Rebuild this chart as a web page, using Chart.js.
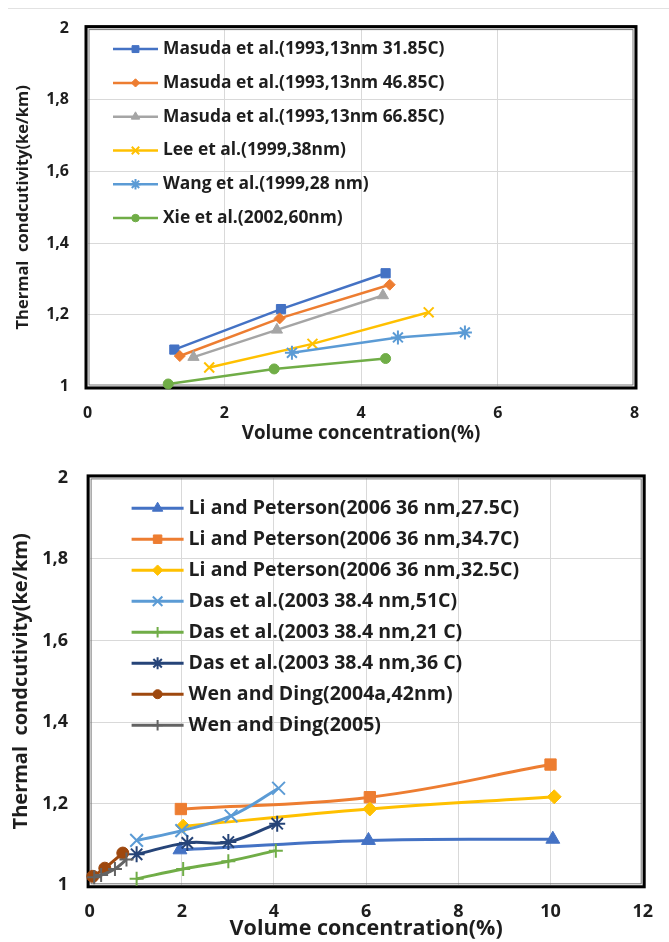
<!DOCTYPE html>
<html>
<head>
<meta charset="utf-8">
<title>Thermal conductivity vs volume concentration</title>
<script src="https://cdn.jsdelivr.net/npm/chart.js@4.4.1/dist/chart.umd.min.js"></script>
<style>
    html, body { margin: 0; padding: 0; background: #fff; }
    #page { position: relative; width: 669px; height: 942px; overflow: hidden; background: #fff; }
    #topRule { position: absolute; left: 8px; right: 0; top: 8px; border-top: 1px solid #e2e2e2; }
    .chartBox { position: absolute; left: 0; width: 669px; }
    #topBox { top: 0; height: 445px; }
    #bottomBox { top: 445px; height: 497px; }
</style>
</head>
<body>
<div id="page">
    <div id="topRule"></div>
    <div class="chartBox" id="topBox"><canvas id="chartTop"></canvas></div>
    <div class="chartBox" id="bottomBox"><canvas id="chartBottom"></canvas></div>
</div>
<script>
// ---- data: top chart ----
const topLabels = [
    'Masuda et al.(1993,13nm 31.85C)',
    'Masuda et al.(1993,13nm 46.85C)',
    'Masuda et al.(1993,13nm 66.85C)',
    'Lee et al.(1999,38nm)',
    'Wang et al.(1999,28 nm)',
    'Xie et al.(2002,60nm)'
];
const masuda32X = [1.27, 2.83, 4.36];
const masuda32Y = [1.103, 1.216, 1.316];
const masuda47X = [1.35, 2.81, 4.42];
const masuda47Y = [1.085, 1.19, 1.284];
const masuda67X = [1.55, 2.77, 4.32];
const masuda67Y = [1.082, 1.158, 1.254];
const leeX = [1.78, 3.29, 4.99];
const leeY = [1.053, 1.119, 1.207];
const wangX = [2.99, 4.54, 5.52];
const wangY = [1.094, 1.137, 1.151];
const xieX = [1.18, 2.73, 4.36];
const xieY = [1.007, 1.049, 1.078];
const topXTicks = ['0', '2', '4', '6', '8'];

// ---- data: bottom chart ----
const bottomLabels = [
    'Li and Peterson(2006 36 nm,27.5C)',
    'Li and Peterson(2006 36 nm,34.7C)',
    'Li and Peterson(2006 36 nm,32.5C)',
    'Das et al.(2003 38.4 nm,51C)',
    'Das et al.(2003 38.4 nm,21 C)',
    'Das et al.(2003 38.4 nm,36 C)',
    'Wen and Ding(2004a,42nm)',
    'Wen and Ding(2005)'
];
const li275X = [1.96, 6.05, 10.05];
const li275Y = [1.087, 1.11, 1.113];
const li347X = [1.98, 6.08, 10.0];
const li347Y = [1.187, 1.216, 1.296];
const li325X = [2.03, 6.08, 10.08];
const li325Y = [1.145, 1.187, 1.217];
const das51X = [1.02, 2.0, 3.07, 4.1];
const das51Y = [1.11, 1.134, 1.17, 1.238];
const das21X = [1.02, 2.03, 3.01, 4.04];
const das21Y = [1.016, 1.04, 1.059, 1.085];
const das36X = [1.02, 2.12, 3.01, 4.07];
const das36Y = [1.076, 1.104, 1.106, 1.151];
const wen04X = [0.07, 0.33, 0.72];
const wen04Y = [1.022, 1.042, 1.079];
const wen05X = [0.1, 0.25, 0.55, 0.8];
const wen05Y = [1.02, 1.025, 1.04, 1.063];
const bottomXTicks = ['0', '2', '4', '6', '8', '10', '12'];

const yTicks = ['1', '1,2', '1,4', '1,6', '1,8', '2'];

const FONT = "'Open Sans', 'DejaVu Sans', sans-serif";
Chart.defaults.font.family = FONT;

function toPoints(xs, ys) {
    return xs.map((x, i) => ({ x: x, y: ys[i] }));
}

function series(label, xs, ys, color, style, radius, lineWidth, tension) {
    const open = style === 'cross' || style === 'crossRot' || style === 'star';
    return {
        label: label,
        data: toPoints(xs, ys),
        borderColor: color,
        backgroundColor: color,
        borderWidth: lineWidth,
        pointStyle: style,
        pointRadius: radius,
        pointBackgroundColor: color,
        pointBorderColor: color,
        pointBorderWidth: open ? 2 : 1,
        tension: tension,
        clip: false
    };
}

// frame drawn round the plot area, like the heavy Excel border
const plotFrame = {
    id: 'plotFrame',
    beforeDatasetsDraw(chart) {
        const { ctx, chartArea: a } = chart;
        ctx.save();
        ctx.strokeStyle = '#000';
        ctx.lineWidth = 3;
        ctx.strokeRect(a.left - 1.5, a.top - 1.5, a.right - a.left + 3, a.bottom - a.top + 3);
        ctx.strokeStyle = '#777';
        ctx.lineWidth = 1;
        ctx.strokeRect(a.left + 1.5, a.top + 1.5, a.right - a.left - 3, a.bottom - a.top - 3);
        ctx.restore();
    }
};

// legend drawn inside the plot area (line + marker + text)
const insideLegend = {
    id: 'insideLegend',
    afterDraw(chart, args, opts) {
        const { ctx, chartArea } = chart;
        ctx.save();
        ctx.font = opts.font;
        ctx.textBaseline = 'middle';
        chart.data.datasets.forEach((ds, i) => {
            const y = chartArea.top + opts.top + i * opts.rowHeight;
            const x0 = chartArea.left + opts.left;
            ctx.strokeStyle = ds.borderColor;
            ctx.lineWidth = ds.borderWidth;
            ctx.beginPath();
            ctx.moveTo(x0, y);
            ctx.lineTo(x0 + opts.lineLength, y);
            ctx.stroke();
            ctx.fillStyle = ds.pointBackgroundColor;
            ctx.strokeStyle = ds.pointBorderColor;
            ctx.lineWidth = ds.pointBorderWidth;
            Chart.helpers.drawPoint(ctx, {
                pointStyle: ds.pointStyle,
                radius: ds.pointRadius * opts.markerScale,
                rotation: 0,
                borderWidth: ds.pointBorderWidth
            }, x0 + opts.lineLength / 2, y);
            ctx.fillStyle = opts.color;
            ctx.fillText(ds.label, x0 + opts.lineLength + opts.gap, y);
        });
        ctx.restore();
    }
};

function makeOptions(cfg) {
    return {
        responsive: true,
        maintainAspectRatio: false,
        animation: false,
        layout: { padding: cfg.padding },
        plugins: {
            legend: { display: false },
            tooltip: { enabled: false },
            insideLegend: cfg.legend
        },
        scales: {
            x: {
                type: 'linear',
                min: 0,
                max: cfg.xMax,
                afterFit: (scale) => { scale.height = cfg.xHeight; },
                grid: { color: '#d9d9d9', lineWidth: 1, drawTicks: false },
                border: { display: false },
                ticks: {
                    stepSize: 2,
                    padding: cfg.xTickPad,
                    color: '#1e1e1e',
                    font: { size: cfg.tickSize, weight: 'bold' },
                    callback: (v, i) => cfg.xTicks[i]
                },
                title: {
                    display: true,
                    text: 'Volume concentration(%)',
                    color: '#1e1e1e',
                    font: { size: cfg.xTitleSize, weight: 'bold' },
                    padding: { top: 0, bottom: cfg.xTitlePad }
                }
            },
            y: {
                min: 1,
                max: 2,
                afterFit: (scale) => { scale.width = cfg.yWidth; },
                grid: { color: '#d9d9d9', lineWidth: 1, drawTicks: false },
                border: { display: false },
                ticks: {
                    stepSize: 0.2,
                    padding: cfg.yTickPad,
                    color: '#1e1e1e',
                    font: { size: cfg.tickSize, weight: 'bold' },
                    callback: (v, i) => yTicks[i]
                },
                title: {
                    display: true,
                    text: 'Thermal  condcutivity(ke/km)',
                    color: '#1e1e1e',
                    font: { size: cfg.yTitleSize, weight: 'bold' },
                    padding: { top: cfg.yTitlePad, bottom: 0 }
                }
            }
        }
    };
}

// ---- top chart ----
const topData = [
    series(topLabels[0], masuda32X, masuda32Y, '#4472C4', 'rect', 6.5, 2.5, 0),
    series(topLabels[1], masuda47X, masuda47Y, '#ED7D31', 'rectRot', 5.5, 2.5, 0),
    series(topLabels[2], masuda67X, masuda67Y, '#A5A5A5', 'triangle', 6.5, 2.5, 0),
    series(topLabels[3], leeX, leeY, '#FFC000', 'crossRot', 7, 2.5, 0),
    series(topLabels[4], wangX, wangY, '#5B9BD5', 'star', 7, 2.5, 0),
    series(topLabels[5], xieX, xieY, '#70AD47', 'circle', 5, 2.5, 0)
];
topData.forEach((d, i) => { d.order = topData.length - i; });

new Chart(document.getElementById('chartTop'), {
    type: 'line',
    data: { datasets: topData },
    options: makeOptions({
        padding: { left: 0, top: 21.7, right: 34.5, bottom: 0 },
        xMax: 8,
        xTicks: topXTicks,
        xHeight: 58.5,
        yWidth: 87.5,
        tickSize: 16,
        xTickPad: 17,
        yTickPad: 18.5,
        xTitleSize: 18.8,
        xTitlePad: 0,
        yTitleSize: 16.5,
        yTitlePad: 13.5,
        legend: {
            font: "bold 17.4px " + FONT,
            color: '#1e1e1e',
            top: 21,
            left: 25.5,
            rowHeight: 33.8,
            lineLength: 45,
            gap: 5,
            markerScale: 0.75
        }
    }),
    plugins: [plotFrame, insideLegend]
});

// ---- bottom chart ----
const bottomData = [
    series(bottomLabels[0], li275X, li275Y, '#4472C4', 'triangle', 8, 3, 0.4),
    series(bottomLabels[1], li347X, li347Y, '#ED7D31', 'rect', 8, 3, 0.4),
    series(bottomLabels[2], li325X, li325Y, '#FFC000', 'rectRot', 7, 3, 0.4),
    series(bottomLabels[3], das51X, das51Y, '#5B9BD5', 'crossRot', 9, 3, 0.4),
    series(bottomLabels[4], das21X, das21Y, '#70AD47', 'cross', 7, 3, 0.4),
    series(bottomLabels[5], das36X, das36Y, '#264478', 'star', 8, 3, 0.4),
    series(bottomLabels[6], wen04X, wen04Y, '#9E480E', 'circle', 6, 3, 0.4),
    series(bottomLabels[7], wen05X, wen05Y, '#636363', 'cross', 7, 3, 0.4)
];
bottomData.forEach((d, i) => { d.order = bottomData.length - i; });

new Chart(document.getElementById('chartBottom'), {
    type: 'line',
    data: { datasets: bottomData },
    options: makeOptions({
        padding: { left: 0, top: 13.5, right: 14, bottom: 0 },
        xMax: 12,
        xTicks: bottomXTicks,
        xHeight: 56.7,
        yWidth: 89.6,
        tickSize: 18,
        xTickPad: 16,
        yTickPad: 21.6,
        xTitleSize: 21.5,
        xTitlePad: 0,
        yTitleSize: 20,
        yTitlePad: 9,
        legend: {
            font: "bold 19.5px " + FONT,
            color: '#1e1e1e',
            top: 30.8,
            left: 42,
            rowHeight: 31,
            lineLength: 52,
            gap: 5,
            markerScale: 0.75
        }
    }),
    plugins: [plotFrame, insideLegend]
});
</script>
</body>
</html>
